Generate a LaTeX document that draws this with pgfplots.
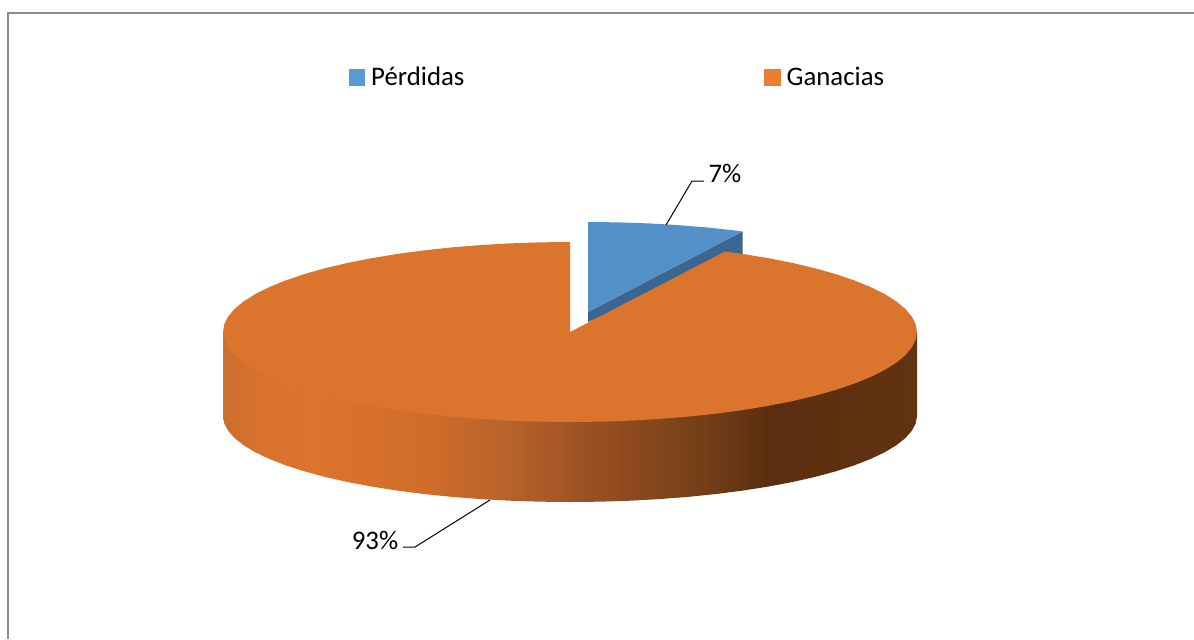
\documentclass[border=0pt]{standalone}
\usepackage{fontspec}
\setmainfont{Carlito}
\usepackage{pgfplots}
\pgfplotsset{compat=1.18}
\definecolor{blueTop}{HTML}{5490C8}
\definecolor{blueSide}{HTML}{3C6690}
\definecolor{orangeTop}{HTML}{DB742C}
\definecolor{legBlue}{HTML}{5B9BD5}
\definecolor{legOrange}{HTML}{ED7D31}
\definecolor{frameGrey}{HTML}{8C8C8C}
\definecolor{wa}{HTML}{CC6E2E}
\definecolor{wb}{HTML}{D8722D}
\definecolor{wc}{HTML}{DB742C}
\definecolor{wd}{HTML}{D06C2A}
\definecolor{we}{HTML}{B9642A}
\definecolor{wf}{HTML}{9A5022}
\definecolor{wg}{HTML}{744018}
\definecolor{wh}{HTML}{5C2E10}
\definecolor{wi}{HTML}{613311}
\pgfdeclarehorizontalshading{wall}{100bp}{color(0bp)=(wa); color(25bp)=(wa); color(27.7bp)=(wb); color(32bp)=(wc); color(39.9bp)=(wd); color(45bp)=(we); color(51.4bp)=(wf); color(59.4bp)=(wg); color(64.2bp)=(wh); color(75bp)=(wi); color(100bp)=(wi)}
\begin{document}
\begin{tikzpicture}
\begin{axis}[
  scale only axis, width=597pt, height=319.5pt,
  xmin=0, xmax=1194, ymin=0, ymax=639, y dir=reverse,
  hide axis, clip=true,
  legend columns=2,
  legend style={at={(axis cs:349,77.5)}, anchor=west, draw=none, fill=none, inner sep=0pt, outer sep=0pt,
    font=\fontsize{13.4}{15}\selectfont,
    /tikz/every even column/.append style={column sep=148pt}},
  legend cell align=left,
]
% legend keys
\addlegendimage{legend image code/.code={\fill[legBlue] (0pt,-3.9pt) rectangle (7.7pt,3.9pt); \path (8.7pt,0pt);}}
\addlegendentry{Pérdidas}
\addlegendimage{legend image code/.code={\fill[legOrange] (0pt,-3.9pt) rectangle (7.7pt,3.9pt); \path (8.7pt,0pt);}}
\addlegendentry{Ganacias}
% chart frame (top and left only)
\addplot[forget plot, frameGrey, line width=0.75pt] coordinates {(8,639) (8,13) (1194,13)};
% exploded slice: 7 %
\addplot[forget plot, draw=none, fill=blueSide] coordinates {(588,312) (742.5,231.5) (742.5,258) (588,322)} --cycle;
\addplot[forget plot, draw=none, fill=blueTop] coordinates {(588,312) (588,222) (618.3,222.34) (648.2,223.37) (677.8,225.07) (706.7,227.43) (734.6,230.43) (742.5,231.5)} --cycle;
% 93 % slice: wall
\addplot[forget plot, draw=none, shade, shading=wall] coordinates {
(223,332) (223,416) (224.3,423.49) (228.3,430.94) (234.8,438.26) (243.9,445.41) (255.5,452.35) (269.5,459) (285.7,465.33) (304.2,471.28) (324.6,476.81) (346.9,481.88) (371,486.44) (396.5,490.48) (423.4,493.95) (451.3,496.81) (480.2,499.07) (509.8,500.69) (539.7,501.67) (570,502)
(600.3,501.67) (630.2,500.69) (659.8,499.07) (688.7,496.81) (716.6,493.95) (743.5,490.48) (769,486.44) (793.1,481.88) (815.4,476.81) (835.8,471.28) (854.3,465.33) (870.5,459) (884.5,452.35) (896.1,445.41) (905.2,438.26) (911.7,430.94) (915.7,423.49) (917,416) (917,332)} --cycle;
% 93 % slice: top
\addplot[forget plot, draw=none, fill=orangeTop] coordinates {
(570,332) (570,242) (539.7,242.34) (509.8,243.37) (480.2,245.07) (451.3,247.43) (423.4,250.43) (396.5,254.06) (371,258.28) (346.9,263.06) (324.6,268.36) (304.2,274.15) (285.7,280.38) (269.5,287) (255.5,293.96) (243.9,301.22) (234.8,308.71) (228.3,316.37) (224.3,324.16) (223,332)
(224.3,339.84) (228.3,347.63) (234.8,355.29) (243.9,362.78) (255.5,370.04) (269.5,377) (285.7,383.62) (304.2,389.85) (324.6,395.64) (346.9,400.94) (371,405.72) (396.5,409.94) (423.4,413.57) (451.3,416.57) (480.2,418.93) (509.8,420.63) (539.7,421.66) (570,422)
(600.3,421.66) (630.2,420.63) (659.8,418.93) (688.7,416.57) (716.6,413.57) (743.5,409.94) (769,405.72) (793.1,400.94) (815.4,395.64) (835.8,389.85) (854.3,383.62) (870.5,377) (884.5,370.04) (896.1,362.78) (905.2,355.29) (911.7,347.63) (915.7,339.84) (917,332)
(915.7,324.16) (911.7,316.37) (905.2,308.71) (896.1,301.22) (884.5,293.96) (870.5,287) (854.3,280.38) (835.8,274.15) (815.4,268.36) (793.1,263.06) (769,258.28) (743.5,254.06) (725,251.5)} --cycle;
% leader lines
\addplot[forget plot, black, line width=0.5pt] coordinates {(666,225) (692,181) (704,181)};
\addplot[forget plot, black, line width=0.5pt] coordinates {(490,500) (415,547) (403,547)};
% data labels
\node[font=\fontsize{13.4}{15}\selectfont, inner sep=0pt] at (axis cs:725,173) {7\%};
\node[font=\fontsize{13.4}{15}\selectfont, inner sep=0pt] at (axis cs:375,540) {93\%};
\end{axis}
\useasboundingbox (0,0) rectangle (597pt,319.5pt);
\end{tikzpicture}
\end{document}
